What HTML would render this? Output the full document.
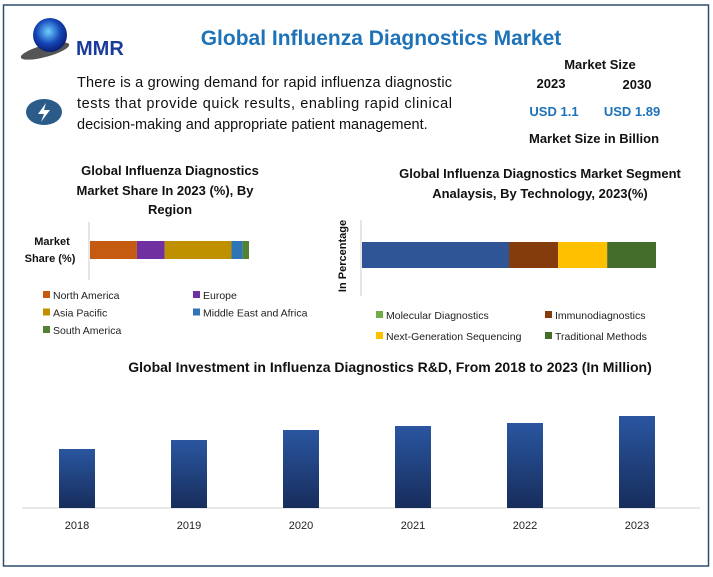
<!DOCTYPE html>
<html><head><meta charset="utf-8"><style>
body{margin:0;width:713px;height:572px;background:#fff;font-family:"Liberation Sans",sans-serif;overflow:hidden}
svg text{font-family:"Liberation Sans",sans-serif}
</style></head><body>
<svg width="713" height="572" xmlns="http://www.w3.org/2000/svg">
<defs>
<linearGradient id="bg" x1="0" y1="0" x2="0" y2="1"><stop offset="0" stop-color="#2a56a0"/><stop offset="1" stop-color="#172d5c"/></linearGradient>
<radialGradient id="globe" cx="0.45" cy="0.4" r="0.6"><stop offset="0" stop-color="#6fd0ff"/><stop offset="0.6" stop-color="#1546b8"/><stop offset="1" stop-color="#0a1f70"/></radialGradient>
</defs>
<rect x="3.5" y="5" width="705" height="561" fill="none" stroke="#2d4e6e" stroke-width="1.5"/>
<g>
<ellipse cx="45" cy="51" rx="25" ry="6" fill="#555" transform="rotate(-15 45 51)"/>
<circle cx="50" cy="35" r="17" fill="url(#globe)"/>
<text x="76" y="55" font-family="Liberation Serif" font-weight="bold" font-size="20" fill="#1a3a9c">MMR</text>
</g>
<text x="381" y="45" text-anchor="middle" font-size="21" font-weight="bold" fill="#1e72b8">Global Influenza Diagnostics Market</text>
<g><ellipse cx="44" cy="112" rx="18" ry="13" fill="#2b5b88"/><path d="M46 103 L38 114 L44 114 L41 122 L50 110 L44 110 Z" fill="#fff"/></g>
<g font-size="14.5" fill="#111">
<text x="77" y="87" textLength="375">There is a growing demand for rapid influenza diagnostic</text>
<text x="77" y="108" textLength="375">tests that provide quick results, enabling rapid clinical</text>
<text x="77" y="129">decision-making and appropriate patient management.</text>
</g>
<g font-weight="bold" text-anchor="middle">
<text x="600" y="69" font-size="13" fill="#111">Market Size</text>
<text x="551" y="88" font-size="13" fill="#111">2023</text>
<text x="637" y="89" font-size="13" fill="#111">2030</text>
<text x="554" y="116" font-size="13" fill="#1e72b8">USD 1.1</text>
<text x="632" y="116" font-size="13" fill="#1e72b8">USD 1.89</text>
<text x="594" y="143" font-size="13" fill="#111">Market Size in Billion</text>
</g>
<g font-size="13" font-weight="bold" text-anchor="middle" fill="#111">
<text x="170" y="175">Global Influenza Diagnostics</text>
<text x="165" y="195">Market Share In 2023 (%), By</text>
<text x="170" y="214">Region</text>
</g>
<g font-size="11" font-weight="bold" text-anchor="middle" fill="#111">
<text x="52" y="245">Market</text><text x="50" y="262">Share (%)</text>
</g>
<line x1="89" y1="222" x2="89" y2="280" stroke="#ccc"/>
<g id="regionBars"></g>
<g id="regionLegend" font-size="10.5" fill="#222"></g>
<g font-size="13" font-weight="bold" text-anchor="middle" fill="#111">
<text x="540" y="178">Global Influenza Diagnostics Market Segment</text>
<text x="540" y="198">Analaysis, By Technology, 2023(%)</text>
</g>
<text transform="translate(346 256) rotate(-90)" text-anchor="middle" font-size="11" font-weight="bold" fill="#111">In Percentage</text>
<line x1="361" y1="220" x2="361" y2="296" stroke="#ccc"/>
<g id="techBars"></g>
<g id="techLegend" font-size="10.5" fill="#222"></g>
<text x="390" y="372" text-anchor="middle" font-size="14" font-weight="bold" fill="#111">Global Investment in Influenza Diagnostics R&amp;D, From 2018 to 2023 (In Million)</text>
<line x1="22" y1="508" x2="700" y2="508" stroke="#d0d0d0"/>
<g id="rdBars"></g>
</svg>
<script>
var regionNames=["North America","Europe","Asia Pacific","Middle East and Africa","South America"];
var regionShares=[29.5,17.5,42,7,4];
var regionColors=["#c55a11","#7030a0","#bf9000","#2e75b6","#548235"];
var techNames=["Molecular Diagnostics","Immunodiagnostics","Next-Generation Sequencing","Traditional Methods"];
var techShares=[50,16.7,16.7,16.6];
var techBarColors=["#2f5597","#843c0c","#ffc000","#446d2c"];
var techLegendColors=["#70ad47","#843c0c","#ffc000","#446d2c"];
var rdYears=["2018","2019","2020","2021","2022","2023"];
var rdValues=[59,68,78,82,85,92];
var NS="http://www.w3.org/2000/svg";
function mk(t,a,p){var e=document.createElementNS(NS,t);for(var k in a)e.setAttribute(k,a[k]);p.appendChild(e);return e;}
var rxs=function(v){return v*159/100;};
var g=document.getElementById("regionBars"),x=90;
regionShares.forEach(function(v,i){var r=mk("rect",{x:x,y:241,width:rxs(v),height:18,fill:regionColors[i]},g);

x+=rxs(v);});
var lg=document.getElementById("regionLegend");
regionNames.forEach(function(n,i){var cx=i%2?193:43,cy=298+Math.floor(i/2)*17.5;
var e=mk("g",{},lg);


mk("rect",{x:cx,y:cy-7,width:7,height:7,fill:regionColors[i]},e);var t=mk("text",{x:cx+10,y:cy+1},e);t.textContent=n;});
var txs=function(v){return v*294/100;};
g=document.getElementById("techBars");x=362;
techShares.forEach(function(v,i){var r=mk("rect",{x:x,y:242,width:txs(v),height:26,fill:techBarColors[i]},g);

x+=txs(v);});
lg=document.getElementById("techLegend");
techNames.forEach(function(n,i){var cx=i%2?545:376,cy=318+Math.floor(i/2)*21;
var e=mk("g",{},lg);


mk("rect",{x:cx,y:cy-7,width:7,height:7,fill:techLegendColors[i]},e);var t=mk("text",{x:cx+10,y:cy+1},e);t.textContent=n;});
var base=508,ys=function(v){return base-v*1.0;};
g=document.getElementById("rdBars");
rdYears.forEach(function(y,i){var cx=77+i*112;
var r=mk("rect",{x:cx-18,y:ys(rdValues[i]),width:36,height:base-ys(rdValues[i]),fill:"url(#bg)"},g);


var t=mk("text",{x:cx,y:529,"text-anchor":"middle","font-size":"11",fill:"#222"},g);t.textContent=y;

});
</script>
</body></html>
